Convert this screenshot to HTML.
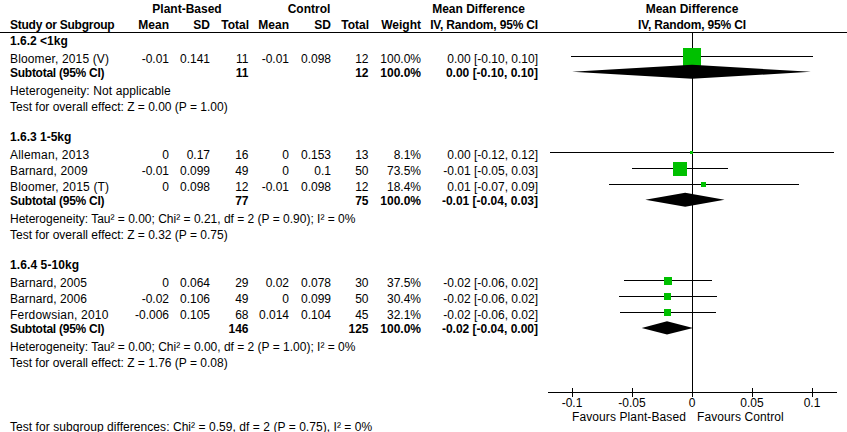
<!DOCTYPE html>
<html><head><meta charset="utf-8"><style>
html,body{margin:0;padding:0;background:#fff;}
body{width:847px;height:432px;position:relative;overflow:hidden;}
.t{position:absolute;font-family:"Liberation Sans",sans-serif;font-size:12px;line-height:14px;white-space:nowrap;color:#000;}
.c{width:300px;text-align:center;}
svg{position:absolute;left:0;top:0;}
</style></head><body>
<svg width="847" height="432" viewBox="0 0 847 432"><rect x="0" y="32" width="847" height="1" fill="#000"/><rect x="692" y="33" width="1" height="359" fill="#000"/><rect x="548" y="392" width="289" height="1" fill="#000"/><rect x="572" y="388" width="1" height="9" fill="#000"/><rect x="632" y="388" width="1" height="9" fill="#000"/><rect x="692" y="388" width="1" height="9" fill="#000"/><rect x="752" y="388" width="1" height="9" fill="#000"/><rect x="812" y="388" width="1" height="9" fill="#000"/><rect x="571" y="56" width="242" height="1" fill="#000"/><rect x="550" y="152" width="284" height="1" fill="#000"/><rect x="632" y="168" width="96" height="1" fill="#000"/><rect x="609" y="184" width="190" height="1" fill="#000"/><rect x="624" y="280" width="88" height="1" fill="#000"/><rect x="619" y="296" width="98" height="1" fill="#000"/><rect x="620" y="312" width="96" height="1" fill="#000"/><rect x="683" y="48" width="18" height="18" fill="#00C000"/><rect x="690" y="151" width="3" height="3" fill="#00C000"/><rect x="673" y="162" width="14" height="14" fill="#00C000"/><rect x="701" y="182" width="5" height="5" fill="#00C000"/><rect x="664" y="277" width="8" height="8" fill="#00C000"/><rect x="664" y="293" width="7" height="7" fill="#00C000"/><rect x="664" y="309" width="7" height="7" fill="#00C000"/><polygon points="572,71.8 692,64.8 811,71.8 692,78.8" fill="#000"/><polygon points="645.3,199.8 685.2,192.8 724.5,199.8 685.2,206.8" fill="#000"/><polygon points="641.7,327.9 667,321.2 693,327.9 667,334.59999999999997" fill="#000"/></svg>
<div class="t c" style="left:37px;top:2px;font-weight:bold;">Plant-Based</div>
<div class="t c" style="left:159px;top:2px;font-weight:bold;">Control</div>
<div class="t c" style="left:328.5px;top:2px;font-weight:bold;">Mean Difference</div>
<div class="t c" style="left:542px;top:2px;font-weight:bold;">Mean Difference</div>
<div class="t" style="left:10px;top:18px;font-weight:bold;letter-spacing:-0.25px;">Study or Subgroup</div>
<div class="t" style="right:678px;top:18px;font-weight:bold;">Mean</div>
<div class="t" style="right:637px;top:18px;font-weight:bold;">SD</div>
<div class="t" style="right:598px;top:18px;font-weight:bold;">Total</div>
<div class="t" style="right:558px;top:18px;font-weight:bold;">Mean</div>
<div class="t" style="right:516px;top:18px;font-weight:bold;">SD</div>
<div class="t" style="right:478px;top:18px;font-weight:bold;">Total</div>
<div class="t" style="right:426px;top:18px;font-weight:bold;">Weight</div>
<div class="t" style="right:309px;top:18px;font-weight:bold;letter-spacing:-0.17px;">IV, Random, 95% CI</div>
<div class="t c" style="left:542px;top:18px;font-weight:bold;letter-spacing:-0.17px;">IV, Random, 95% CI</div>
<div class="t" style="left:10px;top:34px;font-weight:bold;">1.6.2 &lt;1kg</div>
<div class="t" style="left:10px;top:52px;letter-spacing:0.14px;">Bloomer, 2015 (V)</div>
<div class="t" style="right:678px;top:52px;">-0.01</div>
<div class="t" style="right:637px;top:52px;">0.141</div>
<div class="t" style="right:598.5px;top:52px;">11</div>
<div class="t" style="right:558px;top:52px;">-0.01</div>
<div class="t" style="right:516px;top:52px;">0.098</div>
<div class="t" style="right:478.5px;top:52px;">12</div>
<div class="t" style="right:426px;top:52px;">100.0%</div>
<div class="t" style="right:309px;top:52px;">0.00 [-0.10, 0.10]</div>
<div class="t" style="left:10px;top:66px;font-weight:bold;letter-spacing:-0.26px;">Subtotal (95% CI)</div>
<div class="t" style="right:598.5px;top:66px;font-weight:bold;">11</div>
<div class="t" style="right:478.5px;top:66px;font-weight:bold;">12</div>
<div class="t" style="right:426px;top:66px;font-weight:bold;">100.0%</div>
<div class="t" style="right:309px;top:66px;font-weight:bold;">0.00 [-0.10, 0.10]</div>
<div class="t" style="left:10px;top:84px;letter-spacing:0.12px;">Heterogeneity: Not applicable</div>
<div class="t" style="left:10px;top:100px;">Test for overall effect: Z = 0.00 (P = 1.00)</div>
<div class="t" style="left:10px;top:130px;font-weight:bold;">1.6.3 1-5kg</div>
<div class="t" style="left:10px;top:148px;letter-spacing:0.2px;">Alleman, 2013</div>
<div class="t" style="right:678px;top:148px;">0</div>
<div class="t" style="right:637px;top:148px;">0.17</div>
<div class="t" style="right:598.5px;top:148px;">16</div>
<div class="t" style="right:558px;top:148px;">0</div>
<div class="t" style="right:516px;top:148px;">0.153</div>
<div class="t" style="right:478.5px;top:148px;">13</div>
<div class="t" style="right:426px;top:148px;">8.1%</div>
<div class="t" style="right:309px;top:148px;">0.00 [-0.12, 0.12]</div>
<div class="t" style="left:10px;top:164px;letter-spacing:0.13px;">Barnard, 2009</div>
<div class="t" style="right:678px;top:164px;">-0.01</div>
<div class="t" style="right:637px;top:164px;">0.099</div>
<div class="t" style="right:598.5px;top:164px;">49</div>
<div class="t" style="right:558px;top:164px;">0</div>
<div class="t" style="right:516px;top:164px;">0.1</div>
<div class="t" style="right:478.5px;top:164px;">50</div>
<div class="t" style="right:426px;top:164px;">73.5%</div>
<div class="t" style="right:309px;top:164px;">-0.01 [-0.05, 0.03]</div>
<div class="t" style="left:10px;top:180px;letter-spacing:0.19px;">Bloomer, 2015 (T)</div>
<div class="t" style="right:678px;top:180px;">0</div>
<div class="t" style="right:637px;top:180px;">0.098</div>
<div class="t" style="right:598.5px;top:180px;">12</div>
<div class="t" style="right:558px;top:180px;">-0.01</div>
<div class="t" style="right:516px;top:180px;">0.098</div>
<div class="t" style="right:478.5px;top:180px;">12</div>
<div class="t" style="right:426px;top:180px;">18.4%</div>
<div class="t" style="right:309px;top:180px;">0.01 [-0.07, 0.09]</div>
<div class="t" style="left:10px;top:194px;font-weight:bold;letter-spacing:-0.26px;">Subtotal (95% CI)</div>
<div class="t" style="right:598.5px;top:194px;font-weight:bold;">77</div>
<div class="t" style="right:478.5px;top:194px;font-weight:bold;">75</div>
<div class="t" style="right:426px;top:194px;font-weight:bold;">100.0%</div>
<div class="t" style="right:309px;top:194px;font-weight:bold;">-0.01 [-0.04, 0.03]</div>
<div class="t" style="left:10px;top:212px;">Heterogeneity: Tau&sup2; = 0.00; Chi&sup2; = 0.21, df = 2 (P = 0.90); I&sup2; = 0%</div>
<div class="t" style="left:10px;top:228px;">Test for overall effect: Z = 0.32 (P = 0.75)</div>
<div class="t" style="left:10px;top:258px;font-weight:bold;letter-spacing:0.1px;">1.6.4 5-10kg</div>
<div class="t" style="left:10px;top:276px;letter-spacing:0.08px;">Barnard, 2005</div>
<div class="t" style="right:678px;top:276px;">0</div>
<div class="t" style="right:637px;top:276px;">0.064</div>
<div class="t" style="right:598.5px;top:276px;">29</div>
<div class="t" style="right:558px;top:276px;">0.02</div>
<div class="t" style="right:516px;top:276px;">0.078</div>
<div class="t" style="right:478.5px;top:276px;">30</div>
<div class="t" style="right:426px;top:276px;">37.5%</div>
<div class="t" style="right:309px;top:276px;">-0.02 [-0.06, 0.02]</div>
<div class="t" style="left:10px;top:292px;letter-spacing:0.08px;">Barnard, 2006</div>
<div class="t" style="right:678px;top:292px;">-0.02</div>
<div class="t" style="right:637px;top:292px;">0.106</div>
<div class="t" style="right:598.5px;top:292px;">49</div>
<div class="t" style="right:558px;top:292px;">0</div>
<div class="t" style="right:516px;top:292px;">0.099</div>
<div class="t" style="right:478.5px;top:292px;">50</div>
<div class="t" style="right:426px;top:292px;">30.4%</div>
<div class="t" style="right:309px;top:292px;">-0.02 [-0.06, 0.02]</div>
<div class="t" style="left:10px;top:308px;letter-spacing:0.2px;">Ferdowsian, 2010</div>
<div class="t" style="right:678px;top:308px;">-0.006</div>
<div class="t" style="right:637px;top:308px;">0.105</div>
<div class="t" style="right:598.5px;top:308px;">68</div>
<div class="t" style="right:558px;top:308px;">0.014</div>
<div class="t" style="right:516px;top:308px;">0.104</div>
<div class="t" style="right:478.5px;top:308px;">45</div>
<div class="t" style="right:426px;top:308px;">32.1%</div>
<div class="t" style="right:309px;top:308px;">-0.02 [-0.06, 0.02]</div>
<div class="t" style="left:10px;top:322px;font-weight:bold;letter-spacing:-0.26px;">Subtotal (95% CI)</div>
<div class="t" style="right:598.5px;top:322px;font-weight:bold;">146</div>
<div class="t" style="right:478.5px;top:322px;font-weight:bold;">125</div>
<div class="t" style="right:426px;top:322px;font-weight:bold;">100.0%</div>
<div class="t" style="right:309px;top:322px;font-weight:bold;">-0.02 [-0.04, 0.00]</div>
<div class="t" style="left:10px;top:340px;">Heterogeneity: Tau&sup2; = 0.00; Chi&sup2; = 0.00, df = 2 (P = 1.00); I&sup2; = 0%</div>
<div class="t" style="left:10px;top:356px;">Test for overall effect: Z = 1.76 (P = 0.08)</div>
<div class="t" style="left:10px;top:420px;letter-spacing:0.055px;">Test for subgroup differences: Chi&sup2; = 0.59, df = 2 (P = 0.75), I&sup2; = 0%</div>
<div class="t c" style="left:422px;top:396px;">-0.1</div>
<div class="t c" style="left:482px;top:396px;">-0.05</div>
<div class="t c" style="left:542px;top:396px;">0</div>
<div class="t c" style="left:602px;top:396px;">0.05</div>
<div class="t c" style="left:662px;top:396px;">0.1</div>
<div class="t" style="left:572px;top:410px;letter-spacing:0.1px;">Favours Plant-Based</div>
<div class="t" style="left:697px;top:410px;letter-spacing:0.1px;">Favours Control</div>
</body></html>
